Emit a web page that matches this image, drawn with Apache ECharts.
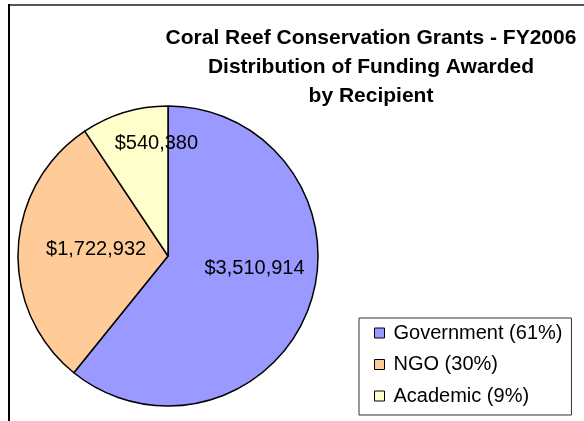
<!DOCTYPE html>
<html>
<head>
<meta charset="utf-8">
<script src="https://cdn.jsdelivr.net/npm/echarts@6/dist/echarts.min.js"></script>
<style>
html,body{margin:0;padding:0;background:#fff;}
#chart{width:584px;height:421px;}
</style>
</head>
<body>
<div id="chart"></div>
<script>
const titleLines = ['Coral Reef Conservation Grants - FY2006', 'Distribution of Funding Awarded', 'by Recipient'];
const categories = ['Government', 'NGO', 'Academic'];
const values = [3510914, 1722932, 540380];
const colors = ['#9999FF', '#FFCC99', '#FFFFCC'];
const labelShift = [[13, -13], [6, -3], [11, -38]];

const total = values.reduce((a, b) => a + b, 0);
const fmtMoney = v => '$' + v.toString().replace(/\B(?=(\d{3})+(?!\d))/g, ',');
const FONT = 'Liberation Sans, Arial, sans-serif';

const chart = echarts.init(document.getElementById('chart'));
chart.setOption({
  animation: false,
  backgroundColor: '#fff',
  title: {
    text: titleLines.join('\n'),
    left: 371,
    top: 24,
    padding: 0,
    textAlign: 'center',
    textStyle: {fontFamily: FONT, fontWeight: 'bold', fontSize: 21, lineHeight: 29, color: '#000'}
  },
  legend: {
    orient: 'vertical',
    left: 359,
    top: 318,
    padding: [5, 9, 9, 15],
    borderColor: '#333',
    borderWidth: 1,
    itemWidth: 10,
    itemHeight: 10,
    itemGap: 11.5,
    icon: 'rect',
    data: categories,
    itemStyle: {borderColor: '#000', borderWidth: 1},
    textStyle: {fontFamily: FONT, fontSize: 20, lineHeight: 20, color: '#000', padding: [0, 0, 0, 4]},
    formatter: name => {
      const i = categories.indexOf(name);
      return name + ' (' + Math.round(values[i] / total * 100) + '%)';
    },
    selectedMode: false
  },
  graphic: [
    {type: 'line', shape: {x1: 9, y1: 5, x2: 600, y2: 5}, style: {stroke: '#555', lineWidth: 2}},
    {type: 'line', shape: {x1: 9, y1: 4, x2: 9, y2: 430}, style: {stroke: '#000', lineWidth: 2}}
  ],
  series: [{
    type: 'pie',
    center: [168, 256],
    radius: 150,
    startAngle: 90,
    clockwise: true,
    silent: true,
    data: categories.map((c, i) => ({name: c, value: values[i], itemStyle: {color: colors[i]}})),
    itemStyle: {borderColor: '#000', borderWidth: 1.5},
    label: {
      show: true,
      position: 'inside',
      formatter: p => fmtMoney(p.value),
      fontFamily: FONT,
      fontSize: 20,
      color: '#000'
    },
    labelLine: {show: false},
    labelLayout: p => ({dx: labelShift[p.dataIndex][0], dy: labelShift[p.dataIndex][1]})
  }]
});
</script>
</body>
</html>
